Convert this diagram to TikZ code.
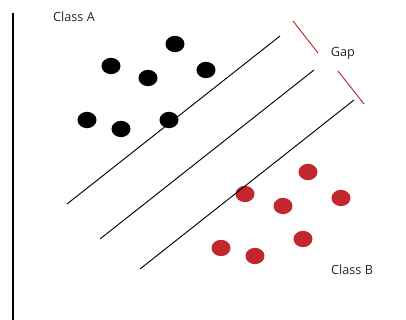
\documentclass[tikz,border=0pt]{standalone}
\usepackage{fontspec}
\setmainfont{Open Sans}
\usepackage{tikz}
\usetikzlibrary{shapes.geometric}

\definecolor{classred}{HTML}{C1272D}

\begin{document}
\begin{tikzpicture}[
    x=0.03cm, y=-0.03cm,
    dotA/.style={ellipse, fill=black, inner sep=0pt, minimum width=0.57cm, minimum height=0.49cm},
    dotB/.style={ellipse, fill=classred, inner sep=0pt, minimum width=0.57cm, minimum height=0.49cm},
    sep/.style={black, line width=0.8pt},
    gapmark/.style={classred, line width=0.8pt},
    lbl/.style={font=\fontsize{10.8}{12}\selectfont, text=black!85, inner sep=0pt}
]
\useasboundingbox (0,0) rectangle (406,320);

% -------- Axis --------
\coordinate (axtop) at (13,13);
\coordinate (axbot) at (13,320);
\draw[line width=1pt] (axtop) -- (axbot);

% -------- Labels --------
\node[lbl, anchor=west] (classA) at (53,17) {Class A};
\node[lbl, anchor=west] (classB) at (331,270) {Class B};
\node[lbl] (gap) at (343,53) {Gap};

% -------- Class A (black) --------
\foreach \x/\y/\i in {175/44/1, 111/66/2, 148/78/3, 206/70/4, 87/120/5, 121/129/6, 169/120/7} {
    \node[dotA] (a\i) at (\x,\y) {};
}

% -------- Class B (red) --------
\foreach \x/\y/\i in {308/172/1, 245/194/2, 283/206/3, 341/198/4, 221/248/5, 303/239/6, 255/256/7} {
    \node[dotB] (b\i) at (\x,\y) {};
}

% -------- Separating lines --------
\coordinate (s1) at (67,204);   \coordinate (e1) at (280,36);
\coordinate (s2) at (100,239);  \coordinate (e2) at (314,70);
\coordinate (s3) at (140,269);  \coordinate (e3) at (354,100);
\foreach \i in {1,2,3} {
    \draw[sep] (s\i) -- (e\i);
}

% -------- Gap marks --------
\coordinate (g1a) at (293,21);  \coordinate (g1b) at (318,53);
\coordinate (g2a) at (338,71);  \coordinate (g2b) at (364,104);
\draw[gapmark] (g1a) -- (g1b);
\draw[gapmark] (g2a) -- (g2b);

\end{tikzpicture}
\end{document}
